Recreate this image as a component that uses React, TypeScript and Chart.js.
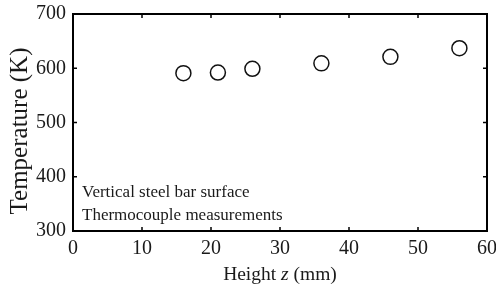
import React, { useEffect, useRef } from "react";
import { Chart, registerables } from "chart.js";

Chart.register(...registerables);

const heights = [16, 21, 26, 36, 46, 56];
const temperatures = [591, 592, 599, 609, 621, 637];
const xTicks = [0, 10, 20, 30, 40, 50, 60];
const yTicks = [300, 400, 500, 600, 700];
const annotation = ["Vertical steel bar surface", "Thermocouple measurements"];
const yTitle = "Temperature (K)";

const FONT = "'Liberation Serif', 'Times New Roman', serif";

const framePlugin = {
  id: "frameTicks",
  afterDraw(chart: any) {
    const { ctx, chartArea } = chart;
    const xs = chart.scales.x;
    const ys = chart.scales.y;
    const { left, right, top, bottom } = chartArea;
    ctx.save();
    ctx.strokeStyle = "#000";
    ctx.lineWidth = 2;
    ctx.strokeRect(left, top, right - left, bottom - top);
    ctx.lineWidth = 1.5;
    const tl = 4;
    ctx.beginPath();
    for (const v of xTicks) {
      const px = xs.getPixelForValue(v);
      ctx.moveTo(px, bottom);
      ctx.lineTo(px, bottom - tl);
      ctx.moveTo(px, top);
      ctx.lineTo(px, top + tl);
    }
    for (const v of yTicks) {
      const py = ys.getPixelForValue(v);
      ctx.moveTo(left, py);
      ctx.lineTo(left + tl, py);
      ctx.moveTo(right, py);
      ctx.lineTo(right - tl, py);
    }
    ctx.stroke();

    // annotation
    ctx.fillStyle = "#1a1a1a";
    ctx.font = `17px ${FONT}`;
    ctx.textAlign = "left";
    ctx.textBaseline = "alphabetic";
    ctx.fillText(annotation[0], left + 9, bottom - 34);
    ctx.fillText(annotation[1], left + 9, bottom - 11);

    // x title with italic z
    const parts = [
      { t: "Height ", f: `19.5px ${FONT}` },
      { t: "z", f: `italic 19.5px ${FONT}` },
      { t: " (mm)", f: `19.5px ${FONT}` },
    ];
    let total = 0;
    for (const p of parts) {
      ctx.font = p.f;
      total += ctx.measureText(p.t).width;
    }
    let x = (left + right) / 2 - total / 2;
    const y = 280;
    for (const p of parts) {
      ctx.font = p.f;
      ctx.fillText(p.t, x, y);
      x += ctx.measureText(p.t).width;
    }

    // y title
    ctx.translate(20, 131);
    ctx.rotate(-Math.PI / 2);
    ctx.font = `25px ${FONT}`;
    ctx.textAlign = "center";
    ctx.textBaseline = "middle";
    ctx.fillText(yTitle, 0, 0);
    ctx.restore();
  },
};

export default function App() {
  const ref = useRef<HTMLCanvasElement>(null);
  useEffect(() => {
    const canvas = ref.current!;
    const chart = new Chart(canvas, {
      type: "scatter",
      data: {
        datasets: [
          {
            label: "Thermocouple measurements",
            data: heights.map((h, i) => ({ x: h, y: temperatures[i] })),
            pointRadius: 7.5,
            pointHoverRadius: 7.5,
            pointBorderWidth: 1.5,
            pointBorderColor: "#111",
            pointBackgroundColor: "rgba(255,255,255,0)",
            showLine: false,
          },
        ],
      },
      options: {
        responsive: false,
        animation: false,
        layout: { padding: { top: 14, right: 9, left: 0, bottom: 0 } },
        plugins: { legend: { display: false }, tooltip: { enabled: false } },
        scales: {
          x: {
            type: "linear",
            min: 0,
            max: 60,
            afterFit: (s: any) => {
              s.height = 56;
              s.paddingLeft = 0;
              s.paddingRight = 0;
            },
            afterBuildTicks: (s: any) => {
              s.ticks = xTicks.map((v) => ({ value: v }));
            },
            grid: { display: false, drawTicks: false },
            border: { display: false },
            ticks: {
              padding: 6,
              color: "#1a1a1a",
              font: { family: FONT, size: 20 },
              maxRotation: 0,
            },
            title: { display: false },
          },
          y: {
            type: "linear",
            min: 300,
            max: 700,
            afterFit: (s: any) => {
              s.width = 73;
              s.paddingTop = 0;
              s.paddingBottom = 0;
            },
            afterBuildTicks: (s: any) => {
              s.ticks = yTicks.map((v) => ({ value: v }));
            },
            grid: { display: false, drawTicks: false },
            border: { display: false },
            ticks: {
              padding: 7,
              color: "#1a1a1a",
              font: { family: FONT, size: 20 },
            },
            title: { display: false },
          },
        },
      },
      plugins: [framePlugin],
    });
    return () => chart.destroy();
  }, []);
  return (
    <div style={{ position: "fixed", left: 0, top: 0, width: 496, height: 287, background: "#fff" }}>
      <canvas ref={ref} width={496} height={287} style={{ display: "block" }} />
    </div>
  );
}
